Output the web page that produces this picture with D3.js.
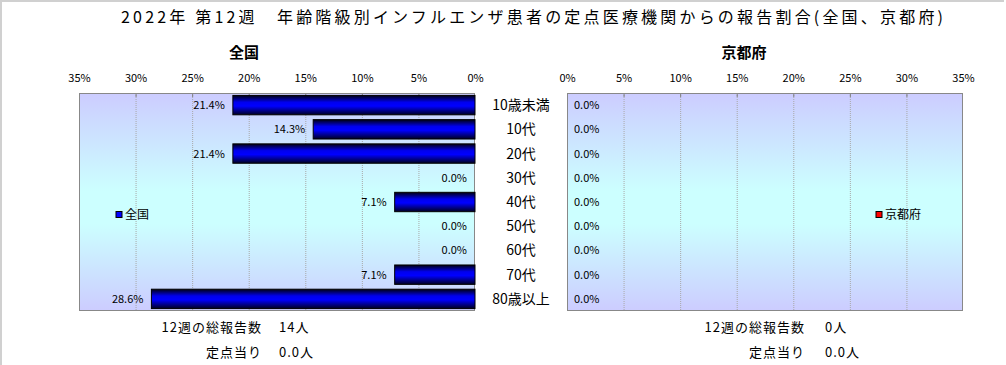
<!DOCTYPE html>
<html><head><meta charset="utf-8">
<script src="https://cdn.jsdelivr.net/npm/d3@7"></script>
<style>
body{margin:0;background:#fff;}
svg{display:block;font-family:"Noto Sans CJK JP","Noto Sans",sans-serif;}
</style></head>
<body><svg id="c" width="1006" height="365"></svg>
<script>
const categories = ["10歳未満","10代","20代","30代","40代","50代","60代","70代","80歳以上"];
const nationalValues = [21.4,14.3,21.4,0,7.1,0,0,7.1,28.6];
const kyotoValues = [0,0,0,0,0,0,0,0,0];
const tickValues = [0,5,10,15,20,25,30,35];
const title = "2022年 第12週　年齢階級別インフルエンザ患者の定点医療機関からの報告割合(全国、京都府)";
const panelTitles = ["全国","京都府"];
const totalLabels = ["12週の総報告数","12週の総報告数"];
const totalValues = ["14人","0人"];
const perLabels = ["定点当り","定点当り"];
const perValues = ["0.0人","0.0人"];

const svg = d3.select("#c");
const defs = svg.append("defs");
const bg = defs.append("linearGradient").attr("id","bg").attr("x1",0).attr("y1",0).attr("x2",0).attr("y2",1);
bg.append("stop").attr("offset","0%").attr("stop-color","#ccccff");
bg.append("stop").attr("offset","45%").attr("stop-color","#ccffff");
bg.append("stop").attr("offset","60%").attr("stop-color","#ccffff");
bg.append("stop").attr("offset","100%").attr("stop-color","#ccccff");
const bar = defs.append("linearGradient").attr("id","bar").attr("x1",0).attr("y1",0).attr("x2",0).attr("y2",1);
bar.append("stop").attr("offset","0%").attr("stop-color","#000010");
bar.append("stop").attr("offset","35%").attr("stop-color","#0000ee");
bar.append("stop").attr("offset","55%").attr("stop-color","#0000ff");
bar.append("stop").attr("offset","100%").attr("stop-color","#000020");

svg.append("line").attr("x1",1).attr("x2",1).attr("y1",0).attr("y2",365).attr("stroke","#d0d0d0").attr("stroke-width",2);
svg.append("line").attr("x1",0).attr("x2",1004).attr("y1",1).attr("y2",1).attr("stroke","#d0d0d0").attr("stroke-width",2);

svg.append("text").attr("x",121).attr("y",23)
  .attr("font-size",16).attr("fill","#000")
  .attr("textLength",822).attr("lengthAdjust","spacing").text(title);

const plotTop = 93, plotBottom = 311;
const y = d3.scaleBand().domain(categories).range([plotTop,plotBottom]).paddingInner(0.2).paddingOuter(0.1);
const xL = d3.scaleLinear().domain([0,35]).range([475,79]);
const xR = d3.scaleLinear().domain([0,35]).range([567,963]);

function panel(x, values, color, titleText, titleX, legendX, labelSide){
  const g = svg.append("g");
  const [r0,r1] = x.range();
  const left = Math.min(r0,r1), right = Math.max(r0,r1);
  g.append("rect").attr("x",left).attr("y",plotTop).attr("width",right-left).attr("height",plotBottom-plotTop)
    .attr("fill","url(#bg)");
  g.selectAll(".grid").data(tickValues.slice(1,-1)).join("line")
    .attr("x1",d=>x(d)+0.5).attr("x2",d=>x(d)+0.5).attr("y1",plotTop).attr("y2",plotBottom)
    .attr("stroke","#a8a8a8").attr("stroke-dasharray","1,1");
  g.selectAll(".tk").data(tickValues.slice(1,-1)).join("line")
    .attr("x1",d=>x(d)+0.5).attr("x2",d=>x(d)+0.5).attr("y1",plotTop).attr("y2",plotTop+4)
    .attr("stroke","#808080");
  g.append("rect").attr("x",left+0.5).attr("y",plotTop+0.5).attr("width",right-left-1).attr("height",plotBottom-plotTop-1)
    .attr("fill","none").attr("stroke","#888");
  const ax = g.append("g").attr("transform",`translate(0,${plotTop-8})`)
    .call(d3.axisTop(x).tickValues(tickValues).tickFormat(d=>d+"%").tickSize(0));
  ax.select(".domain").remove();
  ax.selectAll("text").attr("font-size",11).attr("fill","#000").attr("font-family","\"Noto Sans CJK JP\",sans-serif");
  g.selectAll(".bar").data(values.map((v,i)=>({v,c:categories[i]})).filter(d=>d.v>0)).join("rect")
    .attr("x",d=>Math.min(x(0),x(d.v))).attr("width",d=>Math.abs(x(d.v)-x(0)))
    .attr("y",d=>y(d.c)).attr("height",y.bandwidth())
    .attr("fill","url(#bar)").attr("stroke","#000").attr("stroke-width",1);
  g.selectAll(".lbl").data(values.map((v,i)=>({v,c:categories[i]}))).join("text")
    .attr("x",d=> labelSide==="left" ? x(d.v)-8 : x(d.v)+7)
    .attr("y",d=>y(d.c)+y.bandwidth()/2).attr("dy","0.36em")
    .attr("text-anchor",labelSide==="left"?"end":"start")
    .attr("font-size",11).attr("fill","#000")
    .text(d=>d.v.toFixed(1)+"%");
  svg.append("text").attr("x",titleX).attr("y",58).attr("text-anchor","middle")
    .attr("font-size",15).attr("font-weight","bold").text(titleText);
  g.append("rect").attr("x",legendX).attr("y",211.5).attr("width",6).attr("height",6)
    .attr("fill",color).attr("stroke","#000");
  g.append("text").attr("x",legendX+9).attr("y",215).attr("dy","0.36em").attr("font-size",12).text(titleText);
}
panel(xL, nationalValues, "#0000ff", panelTitles[0], 244, 116, "left");
panel(xR, kyotoValues, "#ff0000", panelTitles[1], 744, 876, "right");

svg.selectAll(".cat").data(categories).join("text")
  .attr("x",521).attr("y",d=>y(d)+y.bandwidth()/2).attr("dy","0.36em")
  .attr("text-anchor","middle").attr("font-size",14).text(d=>d);

const foot = [{lx:262, vx:279},{lx:805, vx:825}];
foot.forEach((f,i)=>{
  svg.append("text").attr("x",f.lx).attr("y",327).attr("dy","0.36em").attr("text-anchor","end")
    .attr("font-size",13).attr("letter-spacing",1).text(totalLabels[i]);
  svg.append("text").attr("x",f.vx).attr("y",327).attr("dy","0.36em")
    .attr("font-size",13).attr("letter-spacing",1).text(totalValues[i]);
  svg.append("text").attr("x",f.lx).attr("y",352).attr("dy","0.36em").attr("text-anchor","end")
    .attr("font-size",13).attr("letter-spacing",1).text(perLabels[i]);
  svg.append("text").attr("x",f.vx).attr("y",352).attr("dy","0.36em")
    .attr("font-size",13).attr("letter-spacing",1).text(perValues[i]);
});
</script></body></html>
